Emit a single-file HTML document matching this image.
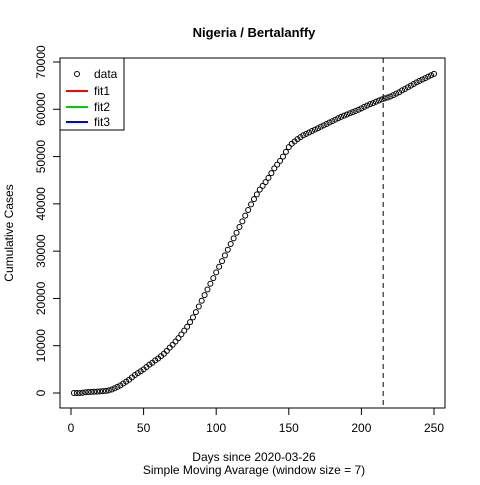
<!DOCTYPE html>
<html><head><meta charset="utf-8"><style>
body{margin:0;background:#fff}
svg text{font-family:"Liberation Sans",Arial,sans-serif;fill:#000}
</style></head><body>
<svg id="chart" width="480" height="480" xmlns="http://www.w3.org/2000/svg">
<rect width="480" height="480" fill="#fff"/>
<text x="254" y="37" font-size="13" font-weight="bold" text-anchor="middle">Nigeria / Bertalanffy</text>
<rect x="60" y="58" width="385" height="350" fill="none" stroke="#000"/>
<g id="xaxis"></g>
<g id="yaxis"></g>
<text x="254" y="461" font-size="12" text-anchor="middle">Days since 2020-03-26</text>
<text x="254" y="474" font-size="12" text-anchor="middle">Simple Moving Avarage (window size = 7)</text>
<text transform="translate(13,233) rotate(-90)" font-size="12" text-anchor="middle">Cumulative Cases</text>
<g id="points"></g>
<line id="cutoff" y1="58" y2="408" stroke="#000" stroke-dasharray="5,4"/>
<g>
<rect x="60" y="58" width="64" height="72" fill="#fff" stroke="#000"/>
<circle cx="77" cy="74" r="2.5" fill="none" stroke="#000"/>
<text x="94" y="78" font-size="12">data</text>
<line x1="66" x2="88" y1="91" y2="91" stroke="#f00" stroke-width="2"/>
<text x="94" y="95" font-size="12">fit1</text>
<line x1="66" x2="88" y1="107" y2="107" stroke="#0c0" stroke-width="2"/>
<text x="94" y="111" font-size="12">fit2</text>
<line x1="66" x2="88" y1="122" y2="122" stroke="#00f" stroke-width="2"/>
<text x="94" y="126" font-size="12">fit3</text>
</g>
</svg>
<script>
const days=[];for(let d=2;d<=250;d+=2)days.push(d);
const cases=[0,0,0,50,150,200,230,260,300,350,400,450,550,750,1000,1300,1600,2000,2400,2800,3300,3800,4200,4600,5000,5500,6000,6400,6900,7300,7800,8300,8900,9600,10200,10900,11600,12400,13200,14000,15000,16000,17100,18300,19500,20700,21900,23100,24300,25500,26700,27900,29100,30300,31500,32700,33900,35100,36300,37500,38700,39900,41000,42000,43000,43800,44600,45500,46500,47500,48300,49100,50000,51000,52000,52700,53200,53700,54100,54500,54800,55100,55400,55700,56000,56300,56600,56900,57200,57500,57800,58100,58400,58650,58900,59150,59400,59650,59900,60200,60500,60800,61100,61300,61600,61850,62100,62300,62500,62700,63000,63300,63600,64000,64300,64650,65000,65350,65700,66000,66300,66600,66900,67200,67500];
const xTicks=[0,50,100,150,200,250];
const yTicks=[0,10000,20000,30000,40000,50000,60000,70000];
const cutoffDay=215;
const NS="http://www.w3.org/2000/svg";
const X=d=>71+d*363/250, Y=v=>393-v*331/70000;
function mk(t,a,p){const e=document.createElementNS(NS,t);for(const k in a)e.setAttribute(k,a[k]);p.appendChild(e);return e;}
const xa=document.getElementById('xaxis'),ya=document.getElementById('yaxis'),pts=document.getElementById('points');
mk('line',{x1:X(0),x2:X(250),y1:408,y2:408,stroke:'#000'},xa);
xTicks.forEach(t=>{const l=mk('line',{x1:X(t),x2:X(t),y1:408,y2:415,stroke:'#000'},xa);


const tx=mk('text',{x:X(t),y:432,'font-size':12,'text-anchor':'middle'},xa);tx.textContent=t;

});
yTicks.forEach(t=>{const l=mk('line',{x1:53,x2:60,y1:Y(t),y2:Y(t),stroke:'#000'},ya);


const tx=mk('text',{transform:`translate(45,${Y(t)}) rotate(-90)`,'font-size':12,'text-anchor':'middle'},ya);tx.textContent=t;

});
days.forEach((d,i)=>{const c=mk('circle',{cx:X(d),cy:Y(cases[i]),r:2.5,fill:'none',stroke:'#000','stroke-width':1},pts);

});
const cl=document.getElementById('cutoff');cl.setAttribute('x1',X(cutoffDay));cl.setAttribute('x2',X(cutoffDay));
</script>
</body></html>
